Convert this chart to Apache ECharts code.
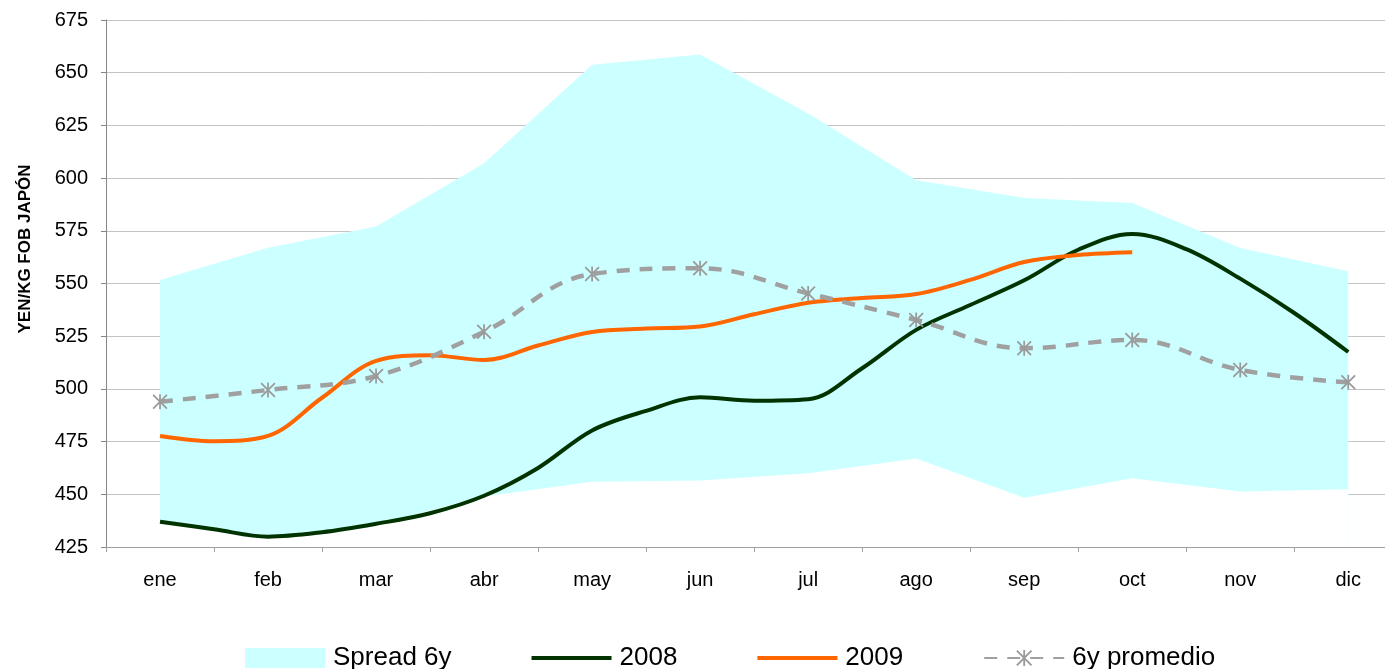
<!DOCTYPE html>
<html>
<head>
<meta charset="utf-8">
<script src="https://cdn.jsdelivr.net/npm/echarts@6/dist/echarts.min.js"></script>
<style>
html,body{margin:0;padding:0;background:#fff;}
#chart{width:1385px;height:669px;}
</style>
</head>
<body>
<div id="chart"></div>
<script>
// ---- data ----
const months = ['ene','feb','mar','abr','may','jun','jul','ago','sep','oct','nov','dic'];
const yTicks = [425, 675, 25]; // min, max, step
// half-month sample positions (in months from axis start), ene centre = 0.5
const halfMonthPos = [0.5,1,1.5,2,2.5,3,3.5,4,4.5,5,5.5,6,6.5,7,7.5,8,8.5,9,9.5,10,10.5,11,11.5];
const spreadTop    = [551.7, 567.0, 577.0, 607.0, 653.8, 658.6, 630.6, 599.0, 590.6, 588.2, 566.8, 555.8];
const spreadBottom = [437.0, 430.0, 435.5, 449.0, 456.0, 456.5, 460.0, 467.0, 448.4, 457.6, 451.3, 452.4];
const y2008 = [437.0, 433.4, 429.9, 432.0, 436.0, 441.0, 449.3, 462.5, 480.3, 489.6, 496.0, 494.4,
               495.1, 509.8, 528.0, 539.8, 551.5, 566.0, 573.5, 566.3, 552.3, 536.0, 517.5];
const y2009 = [477.7, 475.2, 477.7, 495.8, 513.3, 516.0, 513.7, 520.6, 527.0, 528.6, 529.6, 535.4,
               540.9, 543.1, 545.0, 551.7, 560.2, 563.5, 564.8];
const avg6y = [493.9, 499.5, 506.1, 527.1, 554.5, 557.2, 545.3, 532.7, 519.3, 523.2, 509.0, 503.1];

// ---- build ----
const monthCentre = months.map((m, i) => i + 0.5);
const monthEdges = months.map((m, i) => i);
const pairs = (xs, ys) => ys.map((v, i) => [xs[i], v]);
const FONT = "'Liberation Sans', Arial, sans-serif";
const asterisk = 'path://M5.3,0 L6.7,0 L6.7,12 L5.3,12 Z M0,1 L1,0 L12,11 L11,12 Z M11,0 L12,1 L1,12 L0,11 Z';
const lineIcon = 'path://M0,0 L80,0 L80,4 L0,4 Z';

const chart = echarts.init(document.getElementById('chart'), null, {renderer: 'canvas'});
chart.setOption({
  animation: false,
  backgroundColor: '#ffffff',
  textStyle: {fontFamily: FONT},
  grid: {left: 106, top: 20, right: 0, height: 527},
  legend: {
    left: 245, top: 645, padding: 0, itemWidth: 80, itemHeight: 20, itemGap: 80,
    textStyle: {fontFamily: FONT, fontSize: 26, color: '#000', padding: [0, 0, 0, 3]},
    data: [
      {name: 'Spread 6y', icon: 'rect'},
      {name: '2008', icon: lineIcon},
      {name: '2009', icon: lineIcon},
      '6y promedio'
    ]
  },
  xAxis: {
    type: 'value', min: 0, max: 11.84, interval: 1, z: 5,
    axisLine: {show: true, lineStyle: {color: '#A0A0A0', width: 1}},
    axisTick: {show: true, length: 5, customValues: monthEdges, lineStyle: {color: '#A0A0A0'}},
    axisLabel: {
      customValues: monthCentre, margin: 23, fontSize: 20, color: '#000', fontFamily: FONT,
      formatter: v => months[Math.floor(v)]
    },
    splitLine: {show: false}
  },
  yAxis: {
    type: 'value', min: yTicks[0], max: yTicks[1], interval: yTicks[2],
    name: 'YEN/KG FOB JAPÓN', nameLocation: 'middle', nameGap: 72, nameRotate: 90,
    nameTextStyle: {fontFamily: FONT, fontSize: 17, fontWeight: 'bold', color: '#000', padding: [0, 0, 0, 69]},
    axisLine: {show: true, lineStyle: {color: '#868686', width: 1}},
    axisTick: {show: true, length: 5, lineStyle: {color: '#868686'}},
    axisLabel: {margin: 18, fontSize: 20, color: '#000', fontFamily: FONT},
    splitLine: {show: true, lineStyle: {color: '#C4C4C4', width: 1}}
  },
  series: [
    {
      name: 'Spread 6y', type: 'line', data: pairs(monthCentre, spreadTop),
      color: '#CCFFFF', symbol: 'none', lineStyle: {width: 0, color: '#CCFFFF'},
      areaStyle: {color: '#CCFFFF', opacity: 1, origin: 'start'}, z: 1
    },
    {
      name: 'spreadBase', type: 'line', data: pairs(monthCentre, spreadBottom),
      color: '#ffffff', symbol: 'none', lineStyle: {width: 0, color: '#ffffff'},
      areaStyle: {color: '#ffffff', opacity: 1, origin: 'start'}, z: 1
    },
    {
      name: '2008', type: 'line', data: pairs(halfMonthPos, y2008),
      color: '#003300', symbol: 'none', smooth: 0.35,
      lineStyle: {width: 4, color: '#003300'}, z: 3
    },
    {
      name: '2009', type: 'line', data: pairs(halfMonthPos, y2009),
      color: '#FF6600', symbol: 'none', smooth: 0.35,
      lineStyle: {width: 4, color: '#FF6600'}, z: 3
    },
    {
      name: '6y promedio', type: 'line', data: pairs(monthCentre, avg6y),
      color: '#9A9A9A', symbol: asterisk, symbolSize: 15, showSymbol: true, smooth: 0.4,
      itemStyle: {color: '#9A9A9A'},
      lineStyle: {width: 4.5, color: '#A0A0A0', type: [13, 10]}, z: 4
    }
  ]
});
</script>
</body>
</html>
